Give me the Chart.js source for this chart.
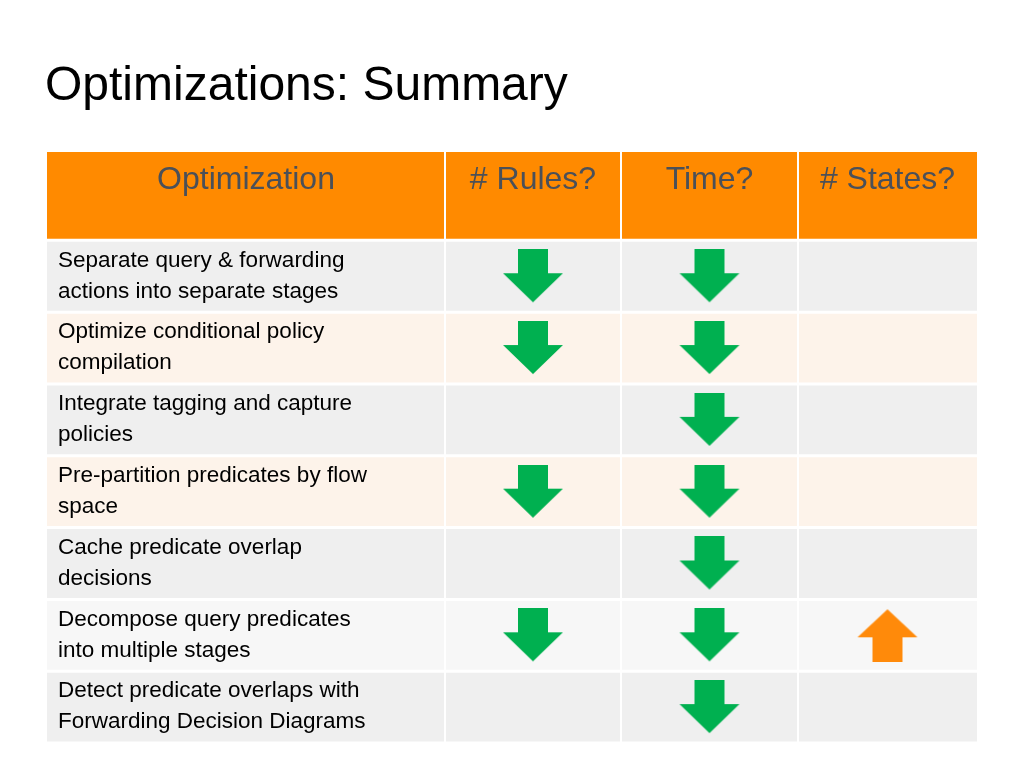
<!DOCTYPE html>
<html>
<head>
<meta charset="utf-8">
<script src="https://cdn.jsdelivr.net/npm/chart.js@4"></script>
<style>
  html, body { margin: 0; padding: 0; background: #fff; }
  #wrap { width: 1024px; height: 768px; position: relative; }
</style>
</head>
<body>
<div id="wrap"><canvas id="table"></canvas></div>
<script>
const headers = ['Optimization', '# Rules?', 'Time?', '# States?'];
const optimizations = [
  ['Separate query & forwarding', 'actions into separate stages'],
  ['Optimize conditional policy', 'compilation'],
  ['Integrate tagging and capture', 'policies'],
  ['Pre-partition predicates by flow', 'space'],
  ['Cache predicate overlap', 'decisions'],
  ['Decompose query predicates', 'into multiple stages'],
  ['Detect predicate overlaps with', 'Forwarding Decision Diagrams']
];
// -1 = decreases (green down arrow), 1 = increases (orange up arrow), 0 = none
const rulesEffect  = [-1, -1, 0, -1, 0, -1, 0];
const timeEffect   = [-1, -1, -1, -1, -1, -1, -1];
const statesEffect = [0, 0, 0, 0, 0, 1, 0];

// Layout
const colEdges = [0, 398, 574, 751, 930];
const headerRows = 1.23;
const rowFills = ['#efefef', '#fdf3ea', '#efefef', '#fdf3ea', '#efefef', '#f7f7f7', '#efefef'];
const orange = '#ff8a00';

function arrowImage(dir, color) {
  const c = document.createElement('canvas');
  c.width = 62; c.height = 54;
  const g = c.getContext('2d');
  g.fillStyle = color;
  g.beginPath();
  if (dir < 0) {
    g.moveTo(16, 0); g.lineTo(46, 0); g.lineTo(46, 24); g.lineTo(61, 24);
    g.lineTo(31, 53); g.lineTo(1, 24); g.lineTo(16, 24);
  } else {
    g.moveTo(31, 1); g.lineTo(61, 29); g.lineTo(46, 29); g.lineTo(46, 54);
    g.lineTo(16, 54); g.lineTo(16, 29); g.lineTo(1, 29);
  }
  g.closePath();
  g.fill();
  return c;
}
const downArrow = arrowImage(-1, '#00b050');
const upArrow = arrowImage(1, '#ff8a0a');

function colCenter(i) { return (colEdges[i] + colEdges[i + 1]) / 2; }
function pointsFor(effects, col) {
  const pts = [];
  effects.forEach((e, r) => { if (e !== 0) pts.push({ x: colCenter(col), y: headerRows + r + 0.5, e: e }); });
  return pts;
}
function styleFor(ctx) {
  const p = ctx.raw;
  return p && p.e > 0 ? upArrow : downArrow;
}

const tablePlugin = {
  id: 'tablePlugin',
  beforeDatasetsDraw(chart) {
    const g = chart.ctx, xs = chart.scales.x, ys = chart.scales.y;
    g.save();
    // header
    for (let c = 0; c < headers.length; c++) {
      const x0 = xs.getPixelForValue(colEdges[c]), x1 = xs.getPixelForValue(colEdges[c + 1]);
      const y0 = ys.getPixelForValue(0), y1 = ys.getPixelForValue(headerRows);
      g.fillStyle = orange;
      g.fillRect(x0, y0, x1 - x0, y1 - y0);
      g.fillStyle = '#4b5058';
      g.font = '32px "Liberation Sans", Arial, sans-serif';
      g.textAlign = 'center';
      g.textBaseline = 'middle';
      g.fillText(headers[c], (x0 + x1) / 2, y0 + 28);
    }
    // body
    optimizations.forEach((lines, r) => {
      const y0 = ys.getPixelForValue(headerRows + r), y1 = ys.getPixelForValue(headerRows + r + 1);
      for (let c = 0; c < headers.length; c++) {
        const x0 = xs.getPixelForValue(colEdges[c]), x1 = xs.getPixelForValue(colEdges[c + 1]);
        g.fillStyle = rowFills[r];
        g.fillRect(x0, y0, x1 - x0, y1 - y0);
      }
      g.fillStyle = '#000';
      g.font = '22.5px "Liberation Sans", Arial, sans-serif';
      g.textAlign = 'left';
      g.textBaseline = 'middle';
      const xl = xs.getPixelForValue(colEdges[0]) + 11;
      g.fillText(lines[0], xl, y0 + 20);
      g.fillText(lines[1], xl, y0 + 51);
    });
    // white grid lines
    g.strokeStyle = '#fff';
    g.lineWidth = 2;
    const top = ys.getPixelForValue(0), bottom = ys.getPixelForValue(headerRows + optimizations.length);
    for (let c = 1; c < colEdges.length - 1; c++) {
      const x = xs.getPixelForValue(colEdges[c]);
      g.beginPath(); g.moveTo(x, top); g.lineTo(x, bottom); g.stroke();
    }
    g.lineWidth = 3;
    for (let r = 0; r <= optimizations.length; r++) {
      const y = ys.getPixelForValue(headerRows + r);
      g.beginPath(); g.moveTo(xs.left, y); g.lineTo(xs.right, y); g.stroke();
    }
    g.restore();
  },
  afterDraw(chart) {
    const g = chart.ctx;
    g.save();
    g.fillStyle = '#000';
    g.font = '48px "Liberation Sans", Arial, sans-serif';
    g.textAlign = 'left';
    g.textBaseline = 'alphabetic';
    g.fillText('Optimizations: Summary', 45, 100);
    g.restore();
  }
};

new Chart(document.getElementById('table').getContext('2d'), {
  type: 'scatter',
  data: {
    datasets: [
      { label: '# Rules?', data: pointsFor(rulesEffect, 1), pointStyle: styleFor },
      { label: 'Time?', data: pointsFor(timeEffect, 2), pointStyle: styleFor },
      { label: '# States?', data: pointsFor(statesEffect, 3), pointStyle: styleFor }
    ]
  },
  options: {
    responsive: true,
    maintainAspectRatio: false,
    animation: false,
    layout: { padding: { left: 47, right: 47, top: 152, bottom: 25 } },
    plugins: { legend: { display: false }, tooltip: { enabled: false } },
    scales: {
      x: { type: 'linear', min: colEdges[0], max: colEdges[colEdges.length - 1], display: false },
      y: { type: 'linear', min: 0, max: headerRows + optimizations.length, reverse: true, display: false }
    }
  },
  plugins: [tablePlugin]
});
</script>
</body>
</html>
